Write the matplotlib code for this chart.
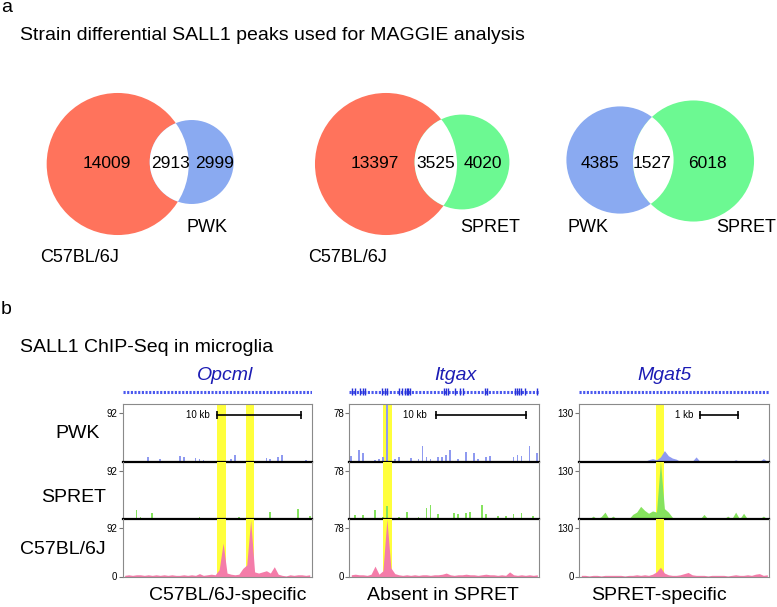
import matplotlib.pyplot as plt
from matplotlib.patches import Circle
import numpy as np

plt.rcParams['font.family'] = ['Liberation Sans', 'DejaVu Sans']

# ---------------- data ----------------
# panel a: Venn counts (left-only, shared, right-only)
venn_left = ['C57BL/6J', 'C57BL/6J', 'PWK']
venn_right = ['PWK', 'SPRET', 'SPRET']
left_only = [14009, 13397, 4385]
shared = [2913, 3525, 1527]
right_only = [2999, 4020, 6018]

# panel b: ChIP-seq tracks, 48 bins each, % of track maximum
genes = ['Opcml', 'Itgax', 'Mgat5']
strains = ['PWK', 'SPRET', 'C57BL/6J']
track_max = ['92', '78', '130']
captions = ['C57BL/6J-specific', 'Absent in SPRET', 'SPRET-specific']
scale_text = ['10 kb', '10 kb', '1 kb']

opcml_pwk = [0, 0, 0, 0, 0, 0, 8, 0, 0, 5, 0, 0, 0, 0, 10, 8, 0, 0, 6, 4,
             2, 0, 0, 0, 0, 0, 0, 4, 12, 0, 0, 0, 0, 0, 0, 0, 6, 4, 0, 8,
             12, 0, 0, 0, 0, 0, 2, 0]
opcml_spret = [0, 0, 0, 16, 3, 0, 0, 10, 0, 0, 0, 0, 0, 0, 0, 0, 0, 0, 0, 3,
               0, 0, 0, 0, 0, 0, 0, 0, 0, 3, 0, 0, 0, 0, 0, 0, 0, 12, 0, 0,
               0, 0, 0, 0, 17, 0, 0, 5]
opcml_c57 = [2, 3, 2, 3, 3, 2, 3, 2, 3, 2, 3, 2, 3, 2, 2, 3, 2, 3, 2, 5,
             2, 3, 4, 3, 12, 58, 6, 4, 3, 4, 14, 20, 98, 8, 6, 8, 10, 6, 17, 4,
             2, 1, 3, 2, 3, 3, 2, 3]

itgax_pwk = [9, 0, 20, 15, 0, 0, 3, 5, 8, 100, 0, 5, 8, 0, 0, 6, 0, 5, 27, 8,
             5, 0, 8, 8, 12, 20, 0, 5, 0, 16, 0, 15, 5, 0, 8, 10, 0, 0, 0, 0,
             0, 8, 12, 10, 0, 27, 0, 15]
itgax_spret = [0, 7, 0, 7, 0, 0, 16, 0, 3, 22, 0, 0, 3, 0, 12, 0, 0, 3, 0, 20,
               25, 0, 8, 0, 0, 0, 10, 8, 0, 10, 12, 0, 0, 24, 8, 0, 0, 5, 0, 5,
               0, 8, 0, 10, 0, 0, 5, 0]
itgax_c57 = [3, 4, 3, 3, 2, 4, 18, 4, 10, 100, 15, 5, 3, 2, 3, 2, 3, 2, 3, 3,
             2, 3, 3, 4, 6, 3, 2, 3, 3, 4, 3, 3, 2, 3, 4, 3, 3, 2, 3, 2,
             8, 3, 2, 3, 2, 3, 2, 3]

mgat5_pwk = [0, 0, 0, 0, 0, 0, 0, 0, 0, 0, 0, 0, 0, 0, 0, 0, 0, 3, 5, 3,
             8, 19, 10, 6, 4, 0, 0, 0, 0, 8, 0, 0, 0, 0, 0, 0, 0, 0, 0, 3,
             0, 0, 0, 0, 0, 0, 5, 0]
mgat5_spret = [0, 0, 0, 5, 0, 4, 12, 0, 5, 0, 0, 0, 0, 8, 12, 22, 15, 10, 14, 12,
               100, 18, 12, 3, 0, 0, 0, 0, 0, 0, 0, 8, 0, 0, 0, 0, 0, 5, 0, 12,
               0, 10, 0, 0, 0, 0, 5, 0]
mgat5_c57 = [2, 2, 1, 2, 2, 1, 2, 2, 2, 2, 2, 1, 2, 2, 3, 2, 3, 2, 4, 8,
             16, 6, 3, 2, 2, 3, 5, 7, 3, 2, 2, 2, 1, 2, 2, 2, 2, 1, 2, 3,
             2, 2, 3, 2, 4, 5, 2, 3]

tracks = [[opcml_pwk, opcml_spret, opcml_c57],
          [itgax_pwk, itgax_spret, itgax_c57],
          [mgat5_pwk, mgat5_spret, mgat5_c57]]

# highlighted peak regions (bin units)
highlights = [[(23.9, 26.2), (31.3, 33.3)], [(8.6, 10.7)], [(19.4, 21.4)]]
# Itgax exon positions (bin units)
itgax_exons = [0.6, 1.4, 2.7, 3.4, 4.0, 8.2, 9.0, 9.5, 12.6, 13.2, 14.1, 14.5,
               14.9, 15.4, 23.8, 24.4, 25.0, 26.7, 28.0, 28.8, 34.4, 34.8,
               41.9, 42.3, 42.9, 43.4, 44.4, 47.3]

# ---------------- style ----------------
strain_venn = {'C57BL/6J': '#FF735C', 'PWK': '#8AAAF1', 'SPRET': '#6CF992'}
strain_track = {'PWK': '#8F9AF0', 'SPRET': '#86E35E', 'C57BL/6J': '#F47CA9'}
gene_blue = '#1C1CB4'
n_bins = 48

W, H = 777, 607
fig = plt.figure(figsize=(W / 100, H / 100), dpi=100)
canvas = fig.add_axes([0, 0, 1, 1])
canvas.set_xlim(0, W)
canvas.set_ylim(H, 0)
canvas.axis('off')
canvas.set_zorder(0)


def px_axes(x0, y0, w, h):
    return fig.add_axes([x0 / W, 1 - (y0 + h) / H, w / W, h / H])


# ---------------- panel a ----------------
canvas.text(1, 8, 'a', fontsize=14, va='center')
canvas.text(20, 35, 'Strain differential SALL1 peaks used for MAGGIE analysis',
            fontsize=14, va='center')

venn_scale = [0.546, 0.546, 0.697]
left_c = [(117.7, 164), (386, 164), (620, 160)]
right_c = [(191.7, 162), (462, 162), (693.5, 161)]
num_x = [(107, 170, 215), (375, 436, 483), (600, 652, 707)]
left_lab = [(80, 258), (348, 258), (588, 228)]
right_lab = [(207, 228), (490, 228), (746, 228)]

for i in range(3):
    r_l = venn_scale[i] * np.sqrt(left_only[i] + shared[i])
    r_r = venn_scale[i] * np.sqrt(right_only[i] + shared[i])
    cl = Circle(left_c[i], r_l, fc=strain_venn[venn_left[i]], ec='none')
    cr = Circle(right_c[i], r_r, fc=strain_venn[venn_right[i]], ec='none')
    canvas.add_patch(cl)
    canvas.add_patch(cr)
    lens = Circle(right_c[i], r_r, fc='white', ec='none')
    canvas.add_patch(lens)
    lens.set_clip_path(cl)
    for x, v in zip(num_x[i], (left_only[i], shared[i], right_only[i])):
        canvas.text(x, 163, str(v), fontsize=12.5, ha='center', va='center')
    canvas.text(*left_lab[i], venn_left[i], fontsize=13, ha='center', va='center')
    canvas.text(*right_lab[i], venn_right[i], fontsize=13, ha='center', va='center')

# ---------------- panel b ----------------
canvas.text(1, 309, 'b', fontsize=14, va='center')
canvas.text(20, 347, 'SALL1 ChIP-Seq in microglia', fontsize=14, va='center')

box_x = [122.7, 349.3, 579.3]
box_w = [189, 190, 190]
track_top = [404, 461.5, 519]
track_h = 57.5
gene_x = [225, 455, 665]
cap_x = [228, 443, 659]
scale_bar = [(0.497, 0.943, 0.46), (0.456, 0.93, 0.41), (0.635, 0.834, 0.598)]

for lab, (x, y) in zip(strains, [(78, 433), (74, 497), (63, 550)]):
    canvas.text(x, y, lab, fontsize=14, ha='center', va='center')

xc = np.arange(n_bins) + 0.5
for p in range(3):
    # gene model
    gax = px_axes(box_x[p], 384, box_w[p], 15)
    gax.set_xlim(0, n_bins)
    gax.set_ylim(-1, 1)
    gax.axis('off')
    gax.plot([0, n_bins], [0, 0], color='#4A58EE', lw=2.2,
             linestyle=(0, (0.7, 0.5)))
    if genes[p] == 'Itgax':
        gax.vlines(itgax_exons, -0.5, 0.5, color='#2630D8', lw=1.0)
    canvas.text(gene_x[p], 376, genes[p], fontsize=14, style='italic',
                color=gene_blue, ha='center', va='center')

    for t in range(3):
        ax = px_axes(box_x[p], track_top[t], box_w[p], track_h)
        ax.set_xlim(0, n_bins)
        ax.set_ylim(0, 100)
        for a, b in highlights[p]:
            ax.axvspan(a, b, color='#FFFF3C', lw=0, zorder=0)
        vals = tracks[p][t]
        col = strain_track[strains[t]]
        if p < 2 and t < 2:
            ax.bar(xc, vals, width=0.45, color=col, lw=0, zorder=2)
        else:
            ax.fill_between(xc, vals, 0, color=col, lw=0, zorder=2)
        ax.set_xticks([])
        if t == 2:
            ax.set_yticks([0, 84], ['0', track_max[p]])
        else:
            ax.set_yticks([84], [track_max[p]])
        ax.tick_params(axis='y', length=3, width=0.8, color='#777777',
                       labelsize=7, pad=1)
        for s in ('left', 'right'):
            ax.spines[s].set_color('#8a8a8a')
        ax.spines['top'].set_visible(t == 0)
        ax.spines['top'].set_color('#8a8a8a')
        if t < 2:
            ax.spines['bottom'].set_color('black')
            ax.spines['bottom'].set_linewidth(1.6)
            ax.spines['bottom'].set_zorder(5)
        else:
            ax.spines['bottom'].set_color('#8a8a8a')
        ax.patch.set_alpha(0)
        if t == 0:
            x0, x1, xt = scale_bar[p]
            ax.plot([x0, x1], [0.81, 0.81], color='black', lw=1.2,
                    transform=ax.transAxes, zorder=6)
            ax.plot([x0, x1], [0.81, 0.81], ls='none', marker='|', ms=6,
                    mew=1.2, color='black', transform=ax.transAxes, zorder=6)
            ax.text(xt, 0.81, scale_text[p], fontsize=7, ha='right',
                    va='center', transform=ax.transAxes)

    canvas.text(cap_x[p], 596, captions[p], fontsize=14, ha='center', va='center')

plt.savefig('out.png', dpi=100, facecolor='white')
